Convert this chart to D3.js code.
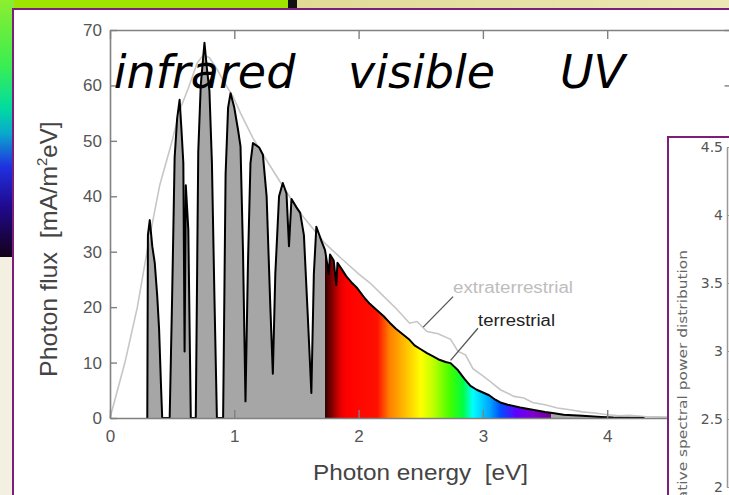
<!DOCTYPE html>
<html>
<head>
<meta charset="utf-8">
<script src="https://cdn.jsdelivr.net/npm/d3@7"></script>
<style>
  body { margin: 0; background: #f3f0e2; }
  svg { display: block; }
  svg text { white-space: pre; }
  .tick text { font-family: "Liberation Sans", Arial, sans-serif; }
</style>
</head>
<body>
<div id="chart"></div>
<script>
// solar photon flux spectrum
var extraterrestrial = [
  [0, 0], [0.12, 10], [0.22, 20], [0.31, 31.6], [0.4, 42], [0.5, 50], [0.56, 55.5], [0.63, 59.5],
  [0.7, 64], [0.75, 65.5], [0.8, 65], [0.86, 63], [0.92, 60.5], [0.99, 58], [1.05, 55], [1.15, 50.5],
  [1.31, 44.7], [1.4, 41.5], [1.53, 37], [1.62, 34.5], [1.73, 31.5], [1.85, 29], [2.0, 26],
  [2.09, 24.4], [2.2, 22], [2.3, 19.8], [2.41, 17.1], [2.47, 17.4], [2.55, 15.6], [2.64, 15.2],
  [2.74, 14.2], [2.8, 12], [2.86, 11.4], [2.92, 8.9], [3.0, 7.6], [3.07, 6.4], [3.14, 5.1],
  [3.25, 3.9], [3.33, 3.6], [3.4, 2.8], [3.5, 2.4], [3.6, 1.8], [3.7, 1.5], [3.8, 1.1], [3.9, 0.9],
  [4.0, 0.6], [4.1, 0.4], [4.18, 0.5], [4.3, 0.25], [4.5, 0.15], [4.7, 0.05], [5.0, 0]
];
var terrestrial = [
  [0.3, 0], [0.305, 33], [0.32, 35.7], [0.34, 31], [0.36, 28], [0.38, 22], [0.395, 16], [0.41, 6], [0.42, 0],
  [0.48, 0], [0.5, 22], [0.52, 47], [0.54, 54], [0.56, 57.4], [0.575, 52], [0.59, 46], [0.6, 12], [0.61, 42],
  [0.63, 34], [0.65, 0],
  [0.69, 0], [0.71, 48], [0.73, 60], [0.76, 67.7], [0.78, 63], [0.8, 59], [0.82, 46], [0.84, 22], [0.86, 0],
  [0.91, 0], [0.93, 44], [0.95, 56], [0.97, 58.6], [1.0, 56], [1.03, 52], [1.05, 49], [1.07, 30],
  [1.09, 3], [1.11, 28], [1.13, 46], [1.15, 49.6], [1.2, 48.8], [1.23, 47.5], [1.26, 40], [1.29, 20],
  [1.31, 8], [1.33, 26], [1.36, 40], [1.39, 42.4], [1.42, 40.5], [1.44, 31], [1.46, 39.5], [1.5, 38],
  [1.53, 37], [1.56, 33], [1.59, 19], [1.62, 4.5], [1.64, 26], [1.66, 34.5], [1.7, 32], [1.73, 30.3],
  [1.76, 26], [1.77, 29.5], [1.8, 28.4], [1.82, 24], [1.83, 28], [1.86, 27], [1.9, 25.6], [1.95, 24.3],
  [1.99, 23.4], [2.05, 21.6], [2.09, 20.6], [2.15, 19.4], [2.2, 18.4], [2.25, 17.2], [2.3, 16.1],
  [2.35, 15.2], [2.41, 14.1], [2.45, 13.1], [2.5, 12.4], [2.55, 11.7], [2.6, 11.1], [2.65, 10.5],
  [2.7, 10.1], [2.74, 9.9], [2.8, 8.6], [2.85, 7.1], [2.9, 5.8], [2.95, 5.1], [3.0, 4.6], [3.05, 4.1],
  [3.1, 3.3], [3.14, 2.8], [3.2, 2.4], [3.3, 1.9], [3.4, 1.5], [3.5, 1.1], [3.56, 0.9], [3.65, 0.6],
  [3.8, 0.4], [3.95, 0.2], [4.05, 0.1], [4.3, 0]
];
// rainbow fill of the visible part, energy in eV -> colour
var spectrumEnergy = [1.73, 1.85, 1.9, 2.15, 2.25, 2.41, 2.5, 2.6, 2.74, 2.84, 2.92, 3.06, 3.14, 3.27, 3.4, 3.55];
var spectrumColor = ["#300000", "#e00000", "#ff0000", "#ff1000", "#ff8000", "#ffd000", "#ffff00", "#c0ff00",
  "#40ff00", "#00ff40", "#00ffff", "#00a0ff", "#0050ff", "#6000ff", "#8000d0", "#700090"];
var xTicks = [0, 1, 2, 3, 4];
var yTicks = [0, 10, 20, 30, 40, 50, 60, 70];
var bandLabels = ["infrared", "visible", "UV"];
var bandLabelAt = [0.03, 1.915, 3.62];   // eV where each label starts
var insetTicks = [2, 2.5, 3, 3.5, 4, 4.5];

var W = 729, H = 495;
var svg = d3.select("#chart").append("svg").attr("width", W).attr("height", H);
var defs = svg.append("defs");
var sans = "Liberation Sans, Arial, sans-serif";

// ---- slide background bits ----
var bg = defs.append("linearGradient").attr("id", "slidetop");
bg.append("stop").attr("offset", "0%").attr("stop-color", "#d9d27e");
bg.append("stop").attr("offset", "100%").attr("stop-color", "#ebe8b6");
svg.append("rect").attr("x", 0).attr("y", 0).attr("width", W).attr("height", 12).style("fill", "url(#slidetop)");
svg.append("rect").attr("x", 0).attr("y", 0).attr("width", 292).attr("height", 12).style("fill", "#9ee400");
svg.append("rect").attr("x", 288).attr("y", 0).attr("width", 9).attr("height", 9).style("fill", "#111");

var strip = defs.append("linearGradient").attr("id", "strip").attr("x1", 0).attr("y1", 0).attr("x2", 0).attr("y2", 1);
[["0%", "#8cee30"], ["25%", "#3cee50"], ["42%", "#00dca0"], ["52%", "#0aa8cc"], ["65%", "#2030e0"],
 ["80%", "#200a90"], ["100%", "#140018"]].forEach(function(s) {
  strip.append("stop").attr("offset", s[0]).attr("stop-color", s[1]);
});
svg.append("rect").attr("x", 0).attr("y", 0).attr("width", 14).attr("height", 257).style("fill", "url(#strip)");

// white panel with purple frame
svg.append("rect").attr("x", 13).attr("y", 9).attr("width", 760).attr("height", 520)
  .style("fill", "#fff").style("stroke", "#7b1f7b").style("stroke-width", 2);

// ---- main chart ----
var x = d3.scaleLinear().domain([0, 5]).range([110, 731.5]);
var y = d3.scaleLinear().domain([0, 70]).range([418, 30]);

var grad = defs.append("linearGradient").attr("id", "spec")
  .attr("gradientUnits", "userSpaceOnUse")
  .attr("x1", x(0)).attr("x2", x(5)).attr("y1", 0).attr("y2", 0);
function stop(e, c) { grad.append("stop").attr("offset", (e / 5 * 100) + "%").attr("stop-color", c); }
stop(0, "#a6a6a6");
stop(spectrumEnergy[0], "#a6a6a6");
spectrumEnergy.forEach(function(e, i) { stop(e, spectrumColor[i]); });
stop(spectrumEnergy[spectrumEnergy.length - 1], "#a6a6a6");
stop(5, "#a6a6a6");

var area = d3.area().x(function(d) { return x(d[0]); }).y0(y(0)).y1(function(d) { return y(d[1]); });
var line = d3.line().x(function(d) { return x(d[0]); }).y(function(d) { return y(d[1]); });

svg.append("path").datum(terrestrial).attr("d", area).style("fill", "url(#spec)");
svg.append("path").datum(extraterrestrial).attr("d", line)
  .style("fill", "none").style("stroke", "#c6c6c6").style("stroke-width", 1.6);
svg.append("path").datum(terrestrial).attr("d", line)
  .style("fill", "none").style("stroke", "#000").style("stroke-width", 2).style("stroke-linejoin", "round");

// axes: ticks inside on all four sides
function styleAxis(g) {
  g.select(".domain").style("stroke", "#808080").style("stroke-width", 1.6);
  g.selectAll(".tick line").style("stroke", "#808080").style("stroke-width", 1.4);
  g.selectAll(".tick text").style("fill", "#555").style("font-size", "17px");
}
svg.append("g").attr("transform", "translate(0," + y(0) + ")")
  .call(d3.axisBottom(x).tickValues(xTicks).tickFormat(d3.format("d"))
    .tickSizeInner(-8).tickSizeOuter(0).tickPadding(12))
  .call(styleAxis);
svg.append("g").attr("transform", "translate(0," + y(70) + ")")
  .call(d3.axisTop(x).tickValues(xTicks.concat([5])).tickSizeInner(-9).tickSizeOuter(0).tickFormat(""))
  .call(styleAxis);
svg.append("g").attr("transform", "translate(" + x(0) + ",0)")
  .call(d3.axisLeft(y).tickValues(yTicks).tickFormat(d3.format("d"))
    .tickSizeInner(-7).tickSizeOuter(0).tickPadding(8))
  .call(styleAxis);
svg.append("g").attr("transform", "translate(" + x(5) + ",0)")
  .call(d3.axisRight(y).tickValues(yTicks).tickSizeInner(-7).tickSizeOuter(0).tickFormat(""))
  .call(styleAxis);

// axis titles
svg.append("text")
  .attr("x", 313).attr("y", 480)
  .attr("textLength", 215).attr("lengthAdjust", "spacingAndGlyphs")
  .style("font-family", sans).style("font-size", "22px").style("fill", "#444")
  .text("Photon energy  [eV]");
var yt = svg.append("text")
  .attr("transform", "translate(57,377) rotate(-90)")
  .style("font-family", sans).style("font-size", "24px").style("fill", "#444");
yt.append("tspan").attr("textLength", 211).attr("lengthAdjust", "spacingAndGlyphs").text("Photon flux  [mA/m");
yt.append("tspan").attr("dy", -10).style("font-size", "15px").text("2");
yt.append("tspan").attr("dy", 10).text("eV]");

// curve labels with leader lines
svg.append("line")
  .attr("x1", x(2.76)).attr("y1", y(21.9)).attr("x2", x(2.52)).attr("y2", y(16.4))
  .style("stroke", "#555").style("stroke-width", 1.3);
svg.append("text").attr("x", 453).attr("y", 293)
  .attr("textLength", 120).attr("lengthAdjust", "spacingAndGlyphs")
  .style("font-family", sans).style("font-size", "16px").style("fill", "#bdbdbd")
  .text("extraterrestrial");
svg.append("line")
  .attr("x1", x(2.96)).attr("y1", y(16.2)).attr("x2", x(2.74)).attr("y2", y(10.4))
  .style("stroke", "#555").style("stroke-width", 1.3);
svg.append("text").attr("x", 478).attr("y", 326)
  .attr("textLength", 77).attr("lengthAdjust", "spacingAndGlyphs")
  .style("font-family", sans).style("font-size", "16px").style("fill", "#222")
  .text("terrestrial");

// big band labels
svg.selectAll("text.band").data(bandLabels).enter().append("text")
  .attr("class", "band")
  .attr("x", function(d, i) { return x(bandLabelAt[i]); })
  .attr("y", 88)
  .style("font-family", "DejaVu Sans, Verdana, sans-serif").style("font-style", "italic")
  .style("font-size", "46px").style("fill", "#000")
  .text(function(d) { return d; });

// ---- inset chart on the right ----
svg.append("rect").attr("x", 668).attr("y", 137).attr("width", 120).attr("height", 400)
  .style("fill", "#fff").style("stroke", "#7b1f7b").style("stroke-width", 2);
var yi = d3.scaleLinear().domain([2, 4.5]).range([487, 147]);
var gi = svg.append("g").attr("transform", "translate(727,0)")
  .call(d3.axisLeft(yi).tickValues(insetTicks).tickSizeInner(-3).tickSizeOuter(0).tickPadding(4)
    .tickFormat(d3.format("")));
gi.select(".domain").style("stroke", "#999").style("stroke-width", 1.5);
gi.selectAll(".tick line").style("stroke", "#999");
gi.selectAll(".tick text").style("fill", "#555").style("font-size", "14px")
  .style("font-family", "DejaVu Sans, Verdana, sans-serif");
svg.append("text")
  .attr("transform", "translate(687,524) rotate(-90)")
  .attr("textLength", 274).attr("lengthAdjust", "spacingAndGlyphs")
  .style("font-family", "DejaVu Sans, Verdana, sans-serif").style("font-size", "13px").style("fill", "#666")
  .text("Relative spectral power distribution");
</script>
</body>
</html>
